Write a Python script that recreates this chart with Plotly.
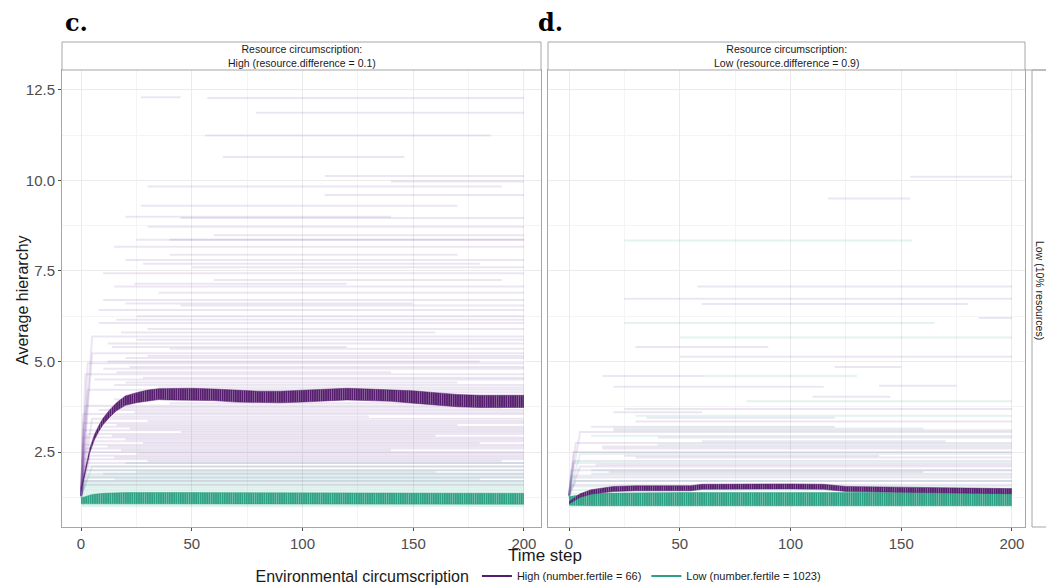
import plotly.graph_objects as go

# ---------------- DATA ----------------
TIME_TICKS = [0, 50, 100, 150, 200]
Y_TICKS = [2.5, 5.0, 7.5, 10.0, 12.5]
RUN_BASE = 1.3  # initial hierarchy value of individual runs

# individual runs, panel c (resource.difference = 0.1), High environment (purple)
c_hi_level = [12.28, 12.3, 11.87, 11.24, 10.65, 10.12, 9.97, 9.83, 9.6, 9.3, 9.0, 8.96, 8.72, 8.49, 8.36, 8.36,
              8.17, 7.95, 7.8, 7.6, 7.44, 7.25, 7.07, 6.9, 6.7, 6.55, 6.42, 6.25, 6.06, 5.9, 5.69, 5.5, 5.35,
              5.23, 5.1, 4.95, 4.8, 4.65, 4.5, 4.35, 4.22, 3.78, 3.66, 3.55, 3.42, 3.3, 3.2, 3.1, 3.0, 2.9,
              2.8, 2.7, 2.6, 2.5, 2.4, 2.3, 2.2, 2.1, 2.0, 1.9, 1.8, 1.7, 1.6,
              5.8, 5.6, 5.4, 5.15, 5.0, 4.85, 4.7, 4.55, 4.42, 4.28, 4.15, 3.95, 3.85, 3.72, 3.6, 3.48,
              3.36, 3.25, 3.15, 3.05, 2.95, 2.85, 2.75, 2.65, 2.55, 2.45, 2.35, 2.25, 6.6, 6.15, 7.15, 7.7]
c_hi_start = [57, 27, 79, 56, 64, 110, 140, 30, 110, 27, 20, 45, 30, 60, 25, 40,
              15, 40, 20, 50, 10, 60, 15, 35, 10, 45, 8, 25, 8, 30, 5, 12, 40,
              5, 20, 3, 10, 2, 6, 15, 3, 2, 8, 1, 5, 1, 10, 1, 3, 1,
              6, 1, 2, 1, 4, 1, 2, 1, 1, 1, 1, 1, 1,
              18, 25, 14, 30, 12, 22, 16, 28, 20, 35, 26, 15, 40, 18, 24, 12,
              30, 16, 22, 45, 14, 20, 28, 12, 18, 25, 15, 30, 20, 16, 24, 28]
c_hi_end = [200, 45, 200, 185, 146, 200, 200, 190, 200, 170, 140, 200, 200, 200, 200, 200,
            200, 170, 200, 200, 200, 190, 200, 200, 200, 200, 200, 200, 200, 200, 200, 200, 200,
            200, 200, 200, 200, 200, 200, 200, 200, 200, 200, 200, 200, 200, 200, 200, 200, 200,
            200, 200, 200, 200, 200, 200, 200, 200, 200, 200, 200, 200, 200,
            160, 200, 120, 200, 180, 200, 140, 200, 170, 200, 200, 150, 200, 190, 200, 130,
            200, 170, 200, 200, 160, 200, 180, 200, 140, 200, 200, 190, 150, 200, 120, 180]

# individual runs, panel c, Low environment (teal)
c_lo_level = [2.2, 2.1, 2.0, 1.9, 1.85, 1.8, 1.7, 1.65, 1.6, 1.55, 1.5, 1.45, 1.4, 1.35, 1.3, 1.25, 1.2,
              1.15, 1.1, 1.05, 1.0, 1.75, 1.95]
c_lo_start = [20, 5, 2, 10, 1, 3, 1, 1, 2, 1, 1, 1, 1, 1, 1, 1, 1, 1, 1, 1, 1, 15, 25]
c_lo_end = [200, 200, 200, 200, 200, 200, 200, 200, 200, 200, 200, 200, 200, 200, 200, 200, 200,
            200, 200, 200, 200, 180, 160]

# individual runs, panel d (resource.difference = 0.9), High environment (purple)
d_hi_level = [10.1, 9.5, 7.07, 6.73, 6.59, 6.2, 5.13, 4.85, 4.3, 4.33, 4.03, 3.69, 3.6, 3.34, 3.2, 3.05,
              2.9, 2.75, 2.6, 2.5, 2.35, 2.25, 2.1, 2.0, 1.9, 1.8, 1.7, 1.6,
              3.45, 3.1, 2.8, 2.65, 2.4, 2.15, 1.95, 5.4, 4.6]
d_hi_start = [154, 117, 58, 25, 60, 185, 50, 120, 20, 140, 110, 25, 20, 30, 10, 5,
              40, 3, 15, 2, 30, 2, 5, 1, 10, 1, 3, 1,
              35, 20, 60, 15, 25, 12, 18, 30, 15]
d_hi_end = [200, 154, 200, 200, 180, 200, 200, 150, 115, 175, 145, 200, 60, 200, 120, 200,
            200, 200, 200, 200, 200, 200, 200, 200, 200, 200, 200, 200,
            120, 200, 170, 200, 140, 200, 160, 90, 60]

# individual runs, panel d, Low environment (teal)
d_lo_level = [8.34, 6.06, 5.66, 4.6, 3.9, 3.5, 3.15, 2.95, 2.7, 2.45, 2.2, 2.0, 1.85, 1.7, 1.55, 1.45,
              1.35, 1.25, 1.15, 1.05, 1.0]
d_lo_start = [25, 25, 50, 60, 80, 30, 20, 10, 40, 5, 2, 10, 1, 1, 1, 1, 1, 1, 1, 1, 1]
d_lo_end = [155, 165, 200, 130, 200, 200, 160, 200, 200, 200, 200, 200, 200, 200, 200, 200,
            200, 200, 200, 200, 200]

# mean +/- error, panel c
c_hi_t = [0, 2, 4, 6, 8, 10, 13, 16, 20, 25, 30, 35, 40, 50, 60, 70, 80, 90, 100, 110, 120, 130, 140,
          150, 160, 170, 180, 190, 200]
c_hi_mean = [1.45, 2.0, 2.55, 2.9, 3.15, 3.35, 3.57, 3.75, 3.92, 4.0, 4.06, 4.1, 4.1, 4.1, 4.08, 4.04,
             4.02, 4.02, 4.04, 4.08, 4.1, 4.08, 4.06, 4.02, 3.97, 3.92, 3.9, 3.9, 3.9]
c_hi_se = [0.04, 0.05, 0.06, 0.07, 0.08, 0.09, 0.1, 0.11, 0.13, 0.14, 0.15, 0.15, 0.16, 0.16, 0.16,
           0.16, 0.16, 0.16, 0.16, 0.16, 0.16, 0.16, 0.16, 0.17, 0.17, 0.17, 0.17, 0.17, 0.17]
c_lo_t = [0, 5, 10, 20, 50, 100, 150, 200]
c_lo_mean = [1.15, 1.2, 1.22, 1.23, 1.23, 1.23, 1.22, 1.21]
c_lo_se = [0.08, 0.13, 0.14, 0.15, 0.15, 0.15, 0.15, 0.15]

# mean +/- error, panel d
d_hi_t = [0, 5, 10, 20, 30, 40, 55, 60, 80, 100, 115, 125, 150, 175, 200]
d_hi_mean = [1.1, 1.3, 1.4, 1.48, 1.5, 1.5, 1.5, 1.54, 1.55, 1.55, 1.54, 1.48, 1.46, 1.44, 1.42]
d_hi_se = [0.03, 0.05, 0.06, 0.07, 0.07, 0.07, 0.07, 0.07, 0.07, 0.07, 0.07, 0.07, 0.07, 0.07, 0.07]
d_lo_t = [0, 10, 50, 100, 150, 200]
d_lo_mean = [1.15, 1.19, 1.2, 1.2, 1.2, 1.2]
d_lo_se = [0.12, 0.17, 0.18, 0.18, 0.18, 0.18]

PURPLE = "#561c6e"
TEAL = "#2ca183"
PURPLE_RUN = "rgba(130,80,170,0.15)"
TEAL_RUN = "rgba(60,170,140,0.14)"

# ---------------- FIGURE ----------------
fig = go.Figure()


def add_runs(levels, starts, ends, color, xa, ya):
    for lv, s, e in zip(levels, starts, ends):
        if s <= 5:
            xs, ys = [0, s, e], [RUN_BASE, lv, lv]
        else:
            xs, ys = [s, e], [lv, lv]
        fig.add_trace(go.Scatter(x=xs, y=ys, mode="lines", line=dict(color=color, width=2),
                                 xaxis=xa, yaxis=ya, showlegend=False, hoverinfo="skip"))


def add_band(t, m, se, color, xa, ya):
    lower = [a - b for a, b in zip(m, se)]
    upper = [a + b for a, b in zip(m, se)]
    fig.add_trace(go.Scatter(x=t, y=lower, mode="lines", line=dict(width=0.5, color=color),
                             xaxis=xa, yaxis=ya, showlegend=False, hoverinfo="skip"))
    fig.add_trace(go.Scatter(x=t, y=upper, mode="lines", line=dict(width=0.5, color=color),
                             fill="tonexty", fillcolor=color,
                             fillpattern=dict(shape="|", fgcolor="rgba(255,255,255,0.85)", bgcolor=color,
                                              size=2.2, solidity=0.25),
                             xaxis=xa, yaxis=ya, showlegend=False, hoverinfo="skip"))


add_runs(c_lo_level, c_lo_start, c_lo_end, TEAL_RUN, "x", "y")
add_runs(c_hi_level, c_hi_start, c_hi_end, PURPLE_RUN, "x", "y")
add_runs(d_lo_level, d_lo_start, d_lo_end, TEAL_RUN, "x2", "y2")
add_runs(d_hi_level, d_hi_start, d_hi_end, PURPLE_RUN, "x2", "y2")

add_band(c_lo_t, c_lo_mean, c_lo_se, TEAL, "x", "y")
add_band(c_hi_t, c_hi_mean, c_hi_se, PURPLE, "x", "y")
add_band(d_lo_t, d_lo_mean, d_lo_se, TEAL, "x2", "y2")
add_band(d_hi_t, d_hi_mean, d_hi_se, PURPLE, "x2", "y2")

# legend entries
fig.add_trace(go.Scatter(x=[None], y=[None], mode="lines", line=dict(color=PURPLE, width=2),
                         name="High (number.fertile = 66)"))
fig.add_trace(go.Scatter(x=[None], y=[None], mode="lines", line=dict(color=TEAL, width=2),
                         name="Low (number.fertile = 1023)"))

# The page body has an 8px margin: work in screen pixels and shift into figure pixels.
OFF = 8
W, H = 1054 - OFF, 587 - OFF


def fx(px):
    return (px - OFF) / W


def fy(py):
    return 1 - (py - OFF) / H


px0c, px1c, px0d, px1d = 62, 541, 548, 1025
py_top, py_bot, py_strip = 70, 527, 42
ydom = [fy(py_bot), fy(py_top)]
FONT = "Liberation Sans, Arial"

axis_common = dict(showline=True, mirror=True, linecolor="#a6a6a6", linewidth=1,
                   showgrid=True, gridcolor="#ebebeb", gridwidth=1, zeroline=False,
                   ticklen=3, tickcolor="#4d4d4d", automargin=False,
                   tickfont=dict(family=FONT, size=15, color="#4d4d4d"))
minor_x = dict(dtick=25, tick0=0, showgrid=True, gridcolor="#f4f4f4")
minor_y = dict(dtick=1.25, tick0=0, showgrid=True, gridcolor="#f4f4f4")

fig.update_layout(
    width=W, height=H, margin=dict(l=0, r=0, t=0, b=0, autoexpand=False),
    plot_bgcolor="white", paper_bgcolor="white",
    xaxis=dict(domain=[fx(px0c), fx(px1c)], range=[-8.6, 207.7], anchor="y", ticks="outside",
               tickvals=TIME_TICKS, minor=minor_x, **axis_common),
    xaxis2=dict(domain=[fx(px0d), fx(px1d)], range=[-9.5, 205.9], anchor="y2", ticks="outside",
                tickvals=TIME_TICKS, minor=minor_x, **axis_common),
    yaxis=dict(domain=ydom, range=[0.43, 13.05], anchor="x", tickvals=Y_TICKS, ticks="outside",
               ticktext=[f"{v:.1f}" for v in Y_TICKS], minor=minor_y, **axis_common),
    yaxis2=dict(domain=ydom, range=[0.43, 13.05], anchor="x2", tickvals=Y_TICKS, showticklabels=False,
                ticks="", minor=minor_y, **axis_common),
    legend=dict(orientation="h", x=fx(540), xanchor="center", y=fy(577), yanchor="middle",
                traceorder="normal",
                title=dict(text="Environmental circumscription", side="left",
                           font=dict(family=FONT, size=16, color="#1a1a1a")),
                font=dict(family=FONT, size=11, color="#1a1a1a"),
                itemwidth=30, bgcolor="rgba(0,0,0,0)"),
    showlegend=True,
)

# strip headers
shapes = []
annotations = []
strip_text = ["Resource circumscription:<br>High (resource.difference = 0.1)",
              "Resource circumscription:<br>Low (resource.difference = 0.9)"]
for (x0, x1), txt in zip([(px0c, px1c), (px0d, px1d)], strip_text):
    shapes.append(dict(type="rect", xref="paper", yref="paper", x0=fx(x0), x1=fx(x1),
                       y0=fy(py_top), y1=fy(py_strip), line=dict(color="#a6a6a6", width=1),
                       fillcolor="white", layer="above"))
    annotations.append(dict(text=txt, xref="paper", yref="paper", x=fx((x0 + x1) / 2),
                            y=fy((py_top + py_strip) / 2), showarrow=False, align="center",
                            xanchor="center", yanchor="middle",
                            font=dict(family=FONT, size=10.5, color="#1a1a1a")))

# right facet strip (cut off at the image edge)
shapes.append(dict(type="rect", xref="paper", yref="paper", x0=fx(1032), x1=1.05,
                   y0=fy(py_bot), y1=fy(py_top), line=dict(color="#a6a6a6", width=1),
                   fillcolor="white"))
shapes.append(dict(type="line", xref="paper", yref="paper", x0=fx(px1d), x1=1.0,
                   y0=fy(py_top), y1=fy(py_top), line=dict(color="#a6a6a6", width=1)))
annotations.append(dict(text="Resource attribute:<br>Low (10% resources)", xref="paper", yref="paper",
                        x=fx(1047), y=fy(290), showarrow=False, textangle=90, align="center",
                        xanchor="center", yanchor="middle",
                        font=dict(family=FONT, size=10.5, color="#1a1a1a")))

# panel letters
annotations.append(dict(text="<b>c.</b>", xref="paper", yref="paper", x=fx(63), y=fy(22),
                        showarrow=False, xanchor="left", yanchor="middle",
                        font=dict(family="DejaVu Serif", size=24, color="black")))
annotations.append(dict(text="<b>d.</b>", xref="paper", yref="paper", x=fx(536), y=fy(22),
                        showarrow=False, xanchor="left", yanchor="middle",
                        font=dict(family="DejaVu Serif", size=24, color="black")))

# axis titles
annotations.append(dict(text="Time step", xref="paper", yref="paper", x=fx(545), y=fy(555),
                        showarrow=False, xanchor="center", yanchor="middle",
                        font=dict(family=FONT, size=17, color="#1a1a1a")))
annotations.append(dict(text="Average hierarchy", xref="paper", yref="paper", x=fx(22), y=fy(300),
                        showarrow=False, xanchor="center", yanchor="middle", textangle=-90,
                        font=dict(family=FONT, size=16, color="#1a1a1a")))

fig.update_layout(shapes=shapes, annotations=annotations)

fig.write_html("out.html")
